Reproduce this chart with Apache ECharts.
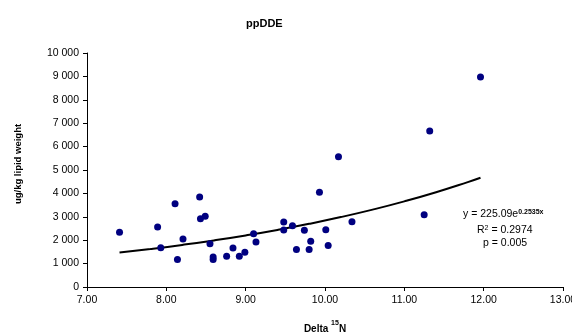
<!DOCTYPE html>
<html>
<head>
<meta charset="utf-8">
<script src="https://cdn.jsdelivr.net/npm/echarts@6/dist/echarts.min.js"></script>
<style>
  html, body { margin: 0; padding: 0; background: #fff; }
  #chart { width: 572px; height: 333px; }
</style>
</head>
<body>
<div id="chart"></div>
<script>
// Delta 15N vs ppDDE (ug/kg lipid weight)
const delta15N = [7.41, 7.89, 7.93, 8.11, 8.14, 8.21, 8.42, 8.43, 8.49, 8.55,
  8.59, 8.59, 8.76, 8.84, 8.92, 8.99, 9.10, 9.13, 9.48, 9.48,
  9.59, 9.64, 9.74, 9.80, 9.82, 9.93, 10.01, 10.04, 10.17, 10.34,
  11.25, 11.32, 11.96];
const ppDDE = [2340, 2560, 1680, 3560, 1180, 2050, 3850, 2920, 3020, 1850,
  1280, 1180, 1310, 1670, 1310, 1480, 2280, 1920, 2780, 2440,
  2620, 1600, 2420, 1600, 1960, 4050, 2450, 1770, 5570, 2790,
  3090, 6670, 8970];

// exponential trend line as printed on the chart
const trendA = 225.09;
const trendB = 0.2535;
const trendX = [7.41, 7.8, 8.2, 8.6, 9.0, 9.4, 9.8, 10.2, 10.6, 11.0, 11.4, 11.8, 11.96];

const xTicks = [7, 8, 9, 10, 11, 12, 13];
const yTicks = [0, 1000, 2000, 3000, 4000, 5000, 6000, 7000, 8000, 9000, 10000];

const font = "Liberation Sans";
const chart = echarts.init(document.getElementById("chart"));

const points = delta15N.map((x, i) => [x, ppDDE[i]]);
const trend = trendX.map(x => [x, trendA * Math.exp(trendB * x)]);

chart.setOption({
  animation: false,
  textStyle: { fontFamily: font },
  title: {
    text: "ppDDE",
    left: 241,
    top: 13,
    textStyle: { fontSize: 11, fontWeight: "bold", color: "#000", fontFamily: font }
  },
  grid: { left: 87, right: 9, top: 53, bottom: 46, outerBoundsMode: "none", containLabel: false },
  xAxis: {
    type: "value",
    min: xTicks[0],
    max: xTicks[xTicks.length - 1],
    interval: 1,
    name: "{b|Delta }{s|15}{b|N}",
    nameLocation: "middle",
    nameGap: 33,
    nameTextStyle: {
      rich: {
        b: { fontSize: 10, fontWeight: "bold", color: "#000", fontFamily: font, padding: [4, 0, 0, 0] },
        s: { fontSize: 7, fontWeight: "bold", color: "#000", fontFamily: font, verticalAlign: "top" }
      }
    },
    axisLine: { lineStyle: { color: "#000", width: 1 } },
    axisTick: { show: true, length: 4, lineStyle: { color: "#000" } },
    axisLabel: {
      color: "#000", fontSize: 10.5, fontFamily: font, margin: 8,
      formatter: v => v.toFixed(2)
    },
    splitLine: { show: false }
  },
  yAxis: {
    type: "value",
    min: yTicks[0],
    max: yTicks[yTicks.length - 1],
    interval: 1000,
    name: "ug/kg lipid weight",
    nameLocation: "middle",
    nameGap: 64,
    nameTextStyle: { fontSize: 9.5, fontWeight: "bold", color: "#000", fontFamily: font, padding: [0, 0, 0, 12] },
    axisLine: { show: true, lineStyle: { color: "#000", width: 1 } },
    axisTick: { show: true, length: 4, lineStyle: { color: "#000" } },
    axisLabel: {
      color: "#000", fontSize: 10.5, fontFamily: font, margin: 8,
      formatter: v => String(v).replace(/\B(?=(\d{3})+(?!\d))/g, " ")
    },
    splitLine: { show: false }
  },
  series: [
    {
      type: "line",
      data: trend,
      smooth: true,
      showSymbol: false,
      lineStyle: { color: "#000", width: 2 },
      z: 1
    },
    {
      type: "scatter",
      data: points,
      symbol: "circle",
      symbolSize: 7,
      itemStyle: { color: "#000080", opacity: 1 },
      z: 2
    }
  ],
  graphic: [
    {
      type: "text",
      left: 463,
      top: 209,
      style: {
        text: "{n|y = 225.09e}{e|0.2535x}",
        rich: {
          n: { fontSize: 10.5, fill: "#000", fontFamily: font },
          e: { fontSize: 7, fontWeight: "bold", fill: "#000", fontFamily: font, verticalAlign: "top" }
        }
      }
    },
    {
      type: "text",
      left: 477,
      top: 225,
      style: {
        text: "{n|R}{e|2}{n| = 0.2974}",
        rich: {
          n: { fontSize: 10.5, fill: "#000", fontFamily: font },
          e: { fontSize: 7, fill: "#000", fontFamily: font, verticalAlign: "top" }
        }
      }
    },
    {
      type: "text",
      left: 483,
      top: 238,
      style: { text: "p = 0.005", fontSize: 10.5, fill: "#000", fontFamily: font }
    }
  ]
});
</script>
</body>
</html>
